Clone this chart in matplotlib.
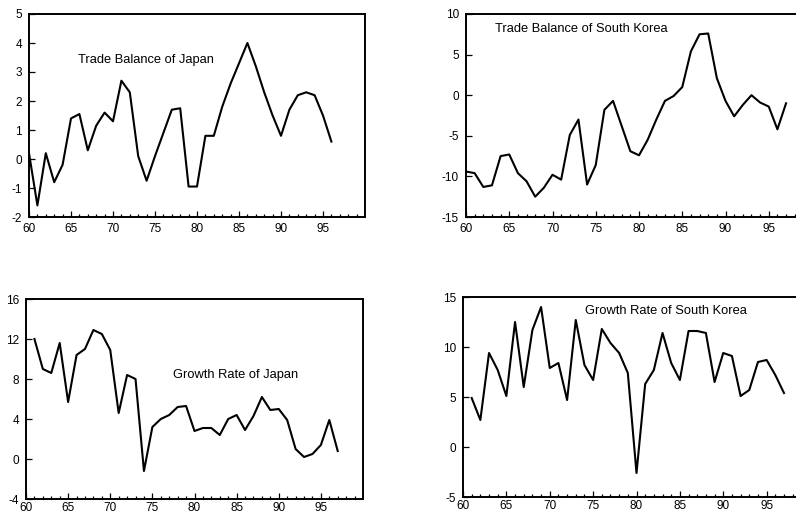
import numpy as np
import matplotlib.pyplot as plt

plt.rcParams['font.family'] = ['Liberation Sans', 'DejaVu Sans']

# years (two-digit, 19xx)
yrs_jp_tb = list(range(60, 97))
jp_trade = [0.2, -1.6, 0.2, -0.8, -0.2, 1.4, 1.55, 0.3, 1.15, 1.6,
            1.3, 2.7, 2.3, 0.1, -0.75, 0.1, 0.9, 1.7, 1.75, -0.95,
            -0.95, 0.8, 0.8, 1.8, 2.6, 3.3, 4.0, 3.2, 2.3, 1.5,
            0.8, 1.7, 2.2, 2.3, 2.2, 1.5, 0.6]

yrs_kr_tb = list(range(60, 98))
kr_trade = [-9.4, -9.6, -11.3, -11.1, -7.5, -7.3, -9.6, -10.6, -12.5, -11.4,
            -9.8, -10.4, -4.9, -3.0, -11.0, -8.6, -1.8, -0.7, -3.8, -6.9,
            -7.4, -5.5, -3.0, -0.7, -0.1, 1.0, 5.4, 7.5, 7.6, 2.1,
            -0.7, -2.6, -1.2, 0.0, -0.9, -1.4, -4.2, -1.0]

yrs_jp_gr = list(range(61, 98))
jp_growth = [12.0, 9.0, 8.6, 11.6, 5.7, 10.4, 11.0, 12.9, 12.5, 10.9,
             4.6, 8.4, 8.0, -1.2, 3.2, 4.0, 4.4, 5.2, 5.3, 2.8,
             3.1, 3.1, 2.4, 4.0, 4.4, 2.9, 4.3, 6.2, 4.9, 5.0,
             3.9, 1.0, 0.2, 0.5, 1.4, 3.9, 0.8]

yrs_kr_gr = list(range(61, 98))
kr_growth = [4.9, 2.7, 9.4, 7.7, 5.1, 12.5, 6.0, 11.7, 14.0, 7.9,
             8.4, 4.7, 12.7, 8.2, 6.7, 11.8, 10.4, 9.4, 7.4, -2.6,
             6.3, 7.7, 11.4, 8.4, 6.7, 11.6, 11.6, 11.4, 6.5, 9.4,
             9.1, 5.1, 5.7, 8.5, 8.7, 7.2, 5.4]

xmaj = [60, 65, 70, 75, 80, 85, 90, 95]
xlab = ['60', '65', '70', '75', '80', '85', '90', '95']

W, H = 796, 516
fig = plt.figure(figsize=(W / 100, H / 100), dpi=100)


def panel(px, x, y, yt, ylab, title, tx, ty, xpad=4):
    l, r, t, b = px
    ax = fig.add_axes([l / W, 1 - b / H, (r - l) / W, (b - t) / H])
    ax.plot(x, y, color='black', lw=1.5)
    ax.set_xlim(60, 100)
    ax.set_ylim(yt[0], yt[-1])
    ax.set_xticks(xmaj)
    ax.set_xticklabels(xlab)
    ax.set_xticks(range(60, 100), minor=True)
    ax.set_yticks(yt)
    ax.set_yticklabels(ylab)
    ax.tick_params(which='both', direction='in', labelsize=8.5,
                   top=False, right=False, width=0.9)
    ax.tick_params(axis='x', pad=xpad)
    ax.tick_params(axis='y', pad=5)
    ax.tick_params(which='major', length=4)
    ax.tick_params(which='minor', length=2.5)
    for s in ax.spines.values():
        s.set_linewidth(1.4)
    ax.text(tx, ty, title, fontsize=9.3, va='center')
    return ax


panel((29, 365, 14, 217), yrs_jp_tb, jp_trade,
      [-2, -1, 0, 1, 2, 3, 4, 5], ['-2', '-1', '0', '1', '2', '3', '4', '5'],
      'Trade Balance of Japan', 65.8, 3.4)
panel((466, 812, 14, 217), yrs_kr_tb, kr_trade,
      [-15, -10, -5, 0, 5, 10], ['-15', '-10', '-5', '0', '5', '10'],
      'Trade Balance of South Korea', 63.3, 8.1)
panel((26, 363, 299, 499), yrs_jp_gr, jp_growth,
      [-4, 0, 4, 8, 12, 16], ['-4', '0', '4', '8', '12', '16'],
      'Growth Rate of Japan', 77.5, 8.4, xpad=2)
panel((463, 810, 297, 497), yrs_kr_gr, kr_growth,
      [-5, 0, 5, 10, 15], ['-5', '0', '5', '10', '15'],
      'Growth Rate of South Korea', 74.1, 13.6, xpad=2)

fig.savefig('out.png', dpi=100)
